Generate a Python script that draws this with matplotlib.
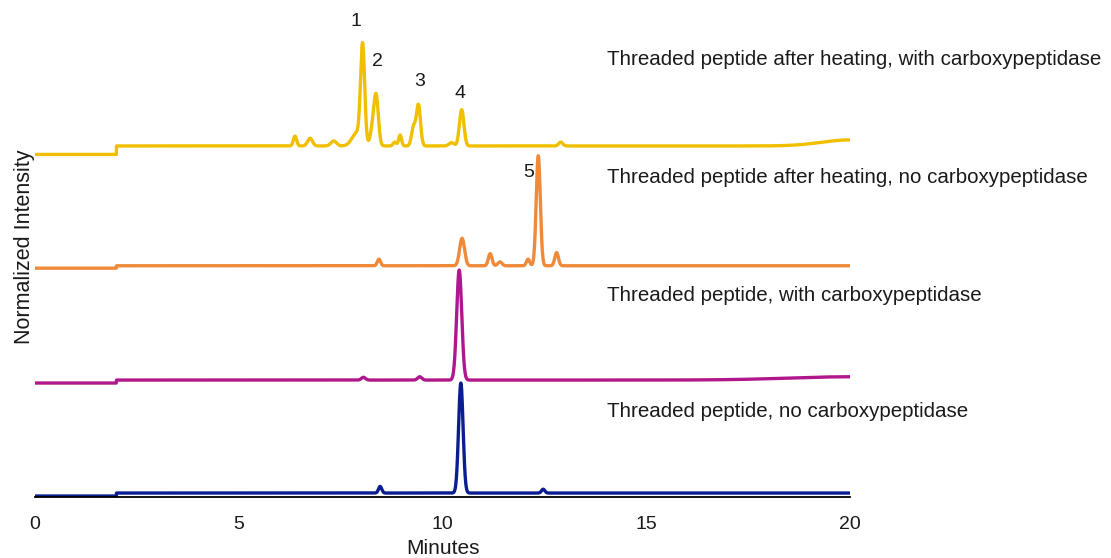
import numpy as np
import matplotlib.pyplot as plt

plt.rcParams['font.family'] = ['Liberation Sans', 'DejaVu Sans']

# peak tables: retention time (min), height (normalized), sigma (min)
blue_rt = [8.47, 10.45, 12.47]
blue_h = [0.06, 1.00, 0.035]
blue_w = [0.04, 0.055, 0.04]

magenta_rt = [8.06, 9.44, 10.41, 20.0]
magenta_h = [0.025, 0.03, 1.00, 0.03]
magenta_w = [0.05, 0.05, 0.062, 1.5]

orange_rt = [8.44, 10.48, 11.17, 11.41, 12.10, 12.35, 12.80]
orange_h = [0.06, 0.25, 0.11, 0.035, 0.06, 1.00, 0.12]
orange_w = [0.04, 0.06, 0.045, 0.05, 0.04, 0.05, 0.045]

yellow_rt = [6.38, 6.75, 7.33, 7.90, 8.04, 8.27, 8.37, 8.83, 8.96, 9.29, 9.41,
             10.22, 10.47, 12.90, 20.0]
yellow_h = [0.09, 0.07, 0.045, 0.12, 0.88, 0.12, 0.46, 0.035, 0.10, 0.17, 0.37,
            0.03, 0.33, 0.035, 0.055]
yellow_w = [0.04, 0.06, 0.07, 0.12, 0.05, 0.05, 0.055, 0.04, 0.035, 0.05, 0.05,
            0.06, 0.055, 0.05, 0.7]

# baseline rise after injection (at 2 min)
step_time = 2.0
blue_step, magenta_step, orange_step, yellow_step = 0.027, 0.027, 0.022, 0.077

labels = ["Threaded peptide, no carboxypeptidase",
          "Threaded peptide, with carboxypeptidase",
          "Threaded peptide after heating, no carboxypeptidase",
          "Threaded peptide after heating, with carboxypeptidase"]

# numbered peaks on the top two traces
peak_numbers = ["1", "2", "3", "4", "5"]

colors = ['#0B1E91', '#B0178C', '#EE8A3A', '#F0C000']
offsets = [0.009, 1.036, 2.08, 3.114]
label_y = [0.773, 1.828, 2.903, 3.973]

t = np.linspace(0, 20, 4001)


def trace(rt, h, w, step):
    y = np.where(t >= step_time, step, 0.0)
    for r, a, s in zip(rt, h, w):
        y = y + a * np.exp(-0.5 * ((t - r) / s) ** 2)
    return y


tables = [(blue_rt, blue_h, blue_w, blue_step),
          (magenta_rt, magenta_h, magenta_w, magenta_step),
          (orange_rt, orange_h, orange_w, orange_step),
          (yellow_rt, yellow_h, yellow_w, yellow_step)]

fig = plt.figure(figsize=(11.11, 5.58), dpi=100)
ax = fig.add_axes([35 / 1111, 1 - 497 / 558, 815 / 1111, 477 / 558])

curves = []
for (rt, h, w, step), c, off in zip(tables, colors, offsets):
    y = trace(rt, h, w, step) + off
    curves.append(y)
    ax.plot(t, y, color=c, lw=2.4, solid_joinstyle='round')

for lab, ly in zip(labels, label_y):
    ax.text(14.04, ly, lab, fontsize=14.8, color='#1a1a1a', va='center', ha='left')

# peak numbers: 1-4 on the yellow trace, 5 on the orange one
num_at = [(8.04, 3), (8.37, 3), (9.41, 3), (10.47, 3), (12.35, 2)]
num_off = [(-4.7, 15.1), (1.4, 23), (1, 16.6), (-1.3, 11.5), (-7.2, -12.2)]
for num, (rt, k), (dx, dy) in zip(peak_numbers, num_at, num_off):
    i = np.argmax(np.where(abs(t - rt) < 0.1, curves[k], -1))
    ax.annotate(num, (t[i], curves[k][i]), xytext=(dx, dy), textcoords='offset points',
                ha='center', va='center', fontsize=14, color='#1a1a1a')

ax.set_xlim(0, 20)
ax.set_ylim(0, 4.336)
ax.set_xticks([0, 5, 10, 15, 20])
ax.set_yticks([])
ax.tick_params(axis='x', length=0, pad=14, labelsize=14, labelcolor='#1a1a1a')
for s in ['left', 'top', 'right']:
    ax.spines[s].set_visible(False)
ax.spines['bottom'].set_linewidth(1.3)
ax.set_xlabel("Minutes", fontsize=15, color='#1a1a1a', labelpad=4)
ax.set_ylabel("Normalized Intensity", fontsize=15.5, color='#1a1a1a')
ax.yaxis.set_label_coords(0.0, 0.524)
ax.patch.set_visible(False)

fig.savefig("out.png", dpi=100)
